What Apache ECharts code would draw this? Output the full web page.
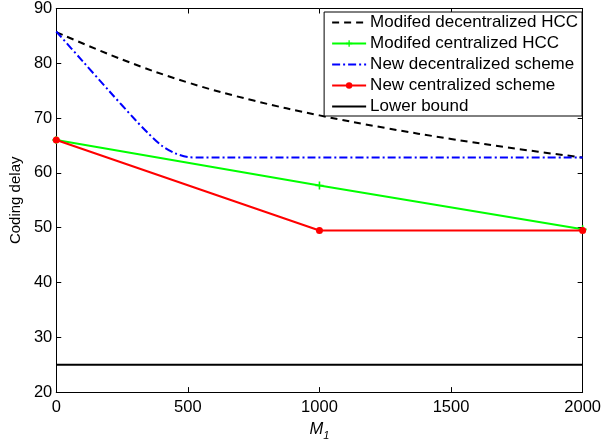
<!DOCTYPE html>
<html>
<head>
<meta charset="utf-8">
<script src="https://cdn.jsdelivr.net/npm/echarts@6/dist/echarts.min.js"></script>
<style>html,body{margin:0;padding:0;background:#fff;}#c{width:604px;height:446px;}</style>
</head>
<body>
<div id="c"></div>
<script>
const xTicks = [0, 500, 1000, 1500, 2000];
const yTicks = [20, 30, 40, 50, 60, 70, 80, 90];
const seriesNames = ['Modifed decentralized HCC', 'Modifed centralized HCC', 'New decentralized scheme', 'New centralized scheme', 'Lower bound'];

const decHccX = [0, 250, 500, 750, 1000, 1250, 1500, 1750, 2000];
const decHccY = [85.7, 80.7, 76.5, 73.2, 70.5, 68.2, 66.2, 64.4, 62.8];

const cenHccX = [0, 1000, 2000];
const cenHccY = [66.0, 57.7, 49.7];

const newDecX = [0, 100, 200, 300, 350, 400, 450, 500, 550, 2000];
const newDecY = [85.8, 80.4, 75.0, 69.7, 67.2, 65.0, 63.6, 62.9, 62.8, 62.8];

const newCenX = [0, 1000, 2000];
const newCenY = [66.0, 49.5, 49.5];

const lowerX = [0, 2000];
const lowerY = [25, 25];

const zip = (xs, ys) => xs.map((x, i) => [x, ys[i]]);
const FONT = 'Liberation Sans, Arial, Helvetica, sans-serif';
const plusPath = 'path://M4,0 L6,0 L6,4 L10,4 L10,6 L6,6 L6,10 L4,10 L4,6 L0,6 L0,4 L4,4 Z';

const chart = echarts.init(document.getElementById('c'), null, {renderer: 'canvas'});
const axisCommon = {
  axisLine: {show: true, onZero: false, lineStyle: {color: '#000', width: 1}},
  axisTick: {show: true, inside: true, length: 5, lineStyle: {color: '#000', width: 1}},
  splitLine: {show: false}
};
const hiddenSymbol = {opacity: 0};
chart.setOption({
  animation: false,
  backgroundColor: '#fff',
  textStyle: {fontFamily: FONT},
  grid: {left: 55, right: 18, top: 6, bottom: 50, containLabel: false},
  legend: {
    data: [
      {name: seriesNames[0], itemStyle: hiddenSymbol},
      {name: seriesNames[1]},
      {name: seriesNames[2], itemStyle: hiddenSymbol},
      {name: seriesNames[3]},
      {name: seriesNames[4], itemStyle: hiddenSymbol}
    ],
    orient: 'vertical',
    right: 22, top: 12,
    backgroundColor: '#fff',
    borderColor: '#000', borderWidth: 1,
    padding: [2, 4, 1, 7],
    itemWidth: 34, itemHeight: 8, itemGap: 4,
    textStyle: {fontFamily: FONT, fontSize: 17, color: '#000', padding: [0, 0, 0, -1]}
  },
  xAxis: [
    Object.assign({}, axisCommon, {
      type: 'value', min: 0, max: 2000, interval: 500, position: 'bottom',
      axisLabel: {color: '#000', fontSize: 16.5, fontFamily: FONT, margin: 7, formatter: v => xTicks.includes(v) ? String(v) : ''},
      name: '{m|M}{s|1}', nameLocation: 'middle', nameGap: 20,
      nameTextStyle: {rich: {
        m: {fontFamily: FONT, fontSize: 16.5, fontStyle: 'italic', color: '#000'},
        s: {fontFamily: FONT, fontSize: 11, fontStyle: 'italic', color: '#000', padding: [12, 0, 0, 0]}
      }}
    }),
    Object.assign({}, axisCommon, {
      type: 'value', min: 0, max: 2000, interval: 500, position: 'top',
      axisLabel: {show: false}
    })
  ],
  yAxis: [
    Object.assign({}, axisCommon, {
      type: 'value', min: 20, max: 90, interval: 10, position: 'left',
      axisLabel: {color: '#000', fontSize: 16.5, fontFamily: FONT, margin: 4, formatter: v => yTicks.includes(v) ? String(v) : ''},
      name: 'Coding delay', nameLocation: 'middle', nameGap: 29, nameRotate: 90,
      nameTextStyle: {fontFamily: FONT, fontSize: 15, color: '#000'}
    }),
    Object.assign({}, axisCommon, {
      type: 'value', min: 20, max: 90, interval: 10, position: 'right',
      axisLabel: {show: false}
    })
  ],
  series: [
    {
      name: seriesNames[0], type: 'line', data: zip(decHccX, decHccY), smooth: 0.4,
      symbol: 'none', lineStyle: {color: '#000', width: 2, type: [7, 5]}, itemStyle: {color: '#000'}, z: 3
    },
    {
      name: seriesNames[1], type: 'line', data: zip(cenHccX, cenHccY),
      symbol: plusPath, symbolSize: 8, showSymbol: true,
      lineStyle: {color: '#00ff00', width: 2}, itemStyle: {color: '#00ff00'}, z: 4
    },
    {
      name: seriesNames[2], type: 'line', data: zip(newDecX, newDecY), smooth: 0.3,
      symbol: 'none', lineStyle: {color: '#0000ff', width: 2, type: [8, 3, 2, 3]}, itemStyle: {color: '#0000ff'}, z: 3
    },
    {
      name: seriesNames[3], type: 'line', data: zip(newCenX, newCenY),
      symbol: 'circle', symbolSize: 7, showSymbol: true,
      lineStyle: {color: '#ff0000', width: 2}, itemStyle: {color: '#ff0000'}, z: 5
    },
    {
      name: seriesNames[4], type: 'line', data: zip(lowerX, lowerY),
      symbol: 'none', lineStyle: {color: '#000', width: 2}, itemStyle: {color: '#000'}, z: 3
    }
  ]
});
</script>
</body>
</html>
